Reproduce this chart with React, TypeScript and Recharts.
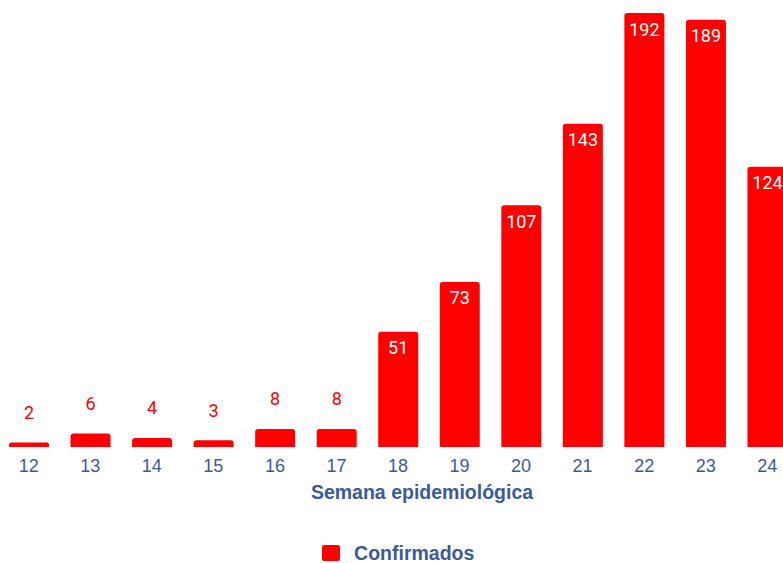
import React from "react";
import { BarChart, Bar, XAxis, YAxis, LabelList, Legend } from "recharts";

const weeks = ["12", "13", "14", "15", "16", "17", "18", "19", "20", "21", "22", "23", "24"];
const confirmados = [2, 6, 4, 3, 8, 8, 51, 73, 107, 143, 192, 189, 124];

const data = weeks.map((w, i) => ({ week: w, confirmados: confirmados[i] }));

const AXIS_COLOR = "#3c5a99";
const BAR_COLOR = "#ff0000";

const BarLabel = (props: any) => {
  const { x, y, width, value } = props;
  const inside = value > 20;
  return (
    <text
      x={x + width / 2}
      y={inside ? y + 16 : y - 30}
      textAnchor="middle"
      dominantBaseline="central"
      fill={inside ? "#ffffff" : BAR_COLOR}
      style={{ fontFamily: "Roboto, sans-serif", fontSize: 18 }}
    >
      {value}
    </text>
  );
};

const LegendContent = () => (
  <div style={{ display: "flex", justifyContent: "center", alignItems: "center", fontFamily: "'Liberation Sans', Arial, sans-serif", lineHeight: "20px" }}>
    <span style={{ display: "inline-block", width: 18, height: 16, background: BAR_COLOR, borderRadius: 2, marginRight: 14 }} />
    <span style={{ color: AXIS_COLOR, fontWeight: 700, fontSize: 19.5 }}>Confirmados</span>
  </div>
);

export default function App() {
  return (
    <div style={{ position: "fixed", left: 0, top: 0, width: 783, height: 563, overflow: "hidden", background: "#fff" }}>
      <div style={{ position: "absolute", left: -1.75, top: 0 }}>
        <BarChart
          width={800}
          height={563}
          data={data}
          margin={{ top: 13, right: 0, left: 0, bottom: 36 }}
          barSize={40}
        >
          <XAxis
            dataKey="week"
            axisLine={false}
            tickLine={false}
            tickSize={6}
            tickMargin={6}
            height={60}
            interval={0}
            tick={{ fill: AXIS_COLOR, fontSize: 18, fontFamily: "'Liberation Sans', Arial, sans-serif" }}
            label={{
              value: "Semana epidemiológica",
              position: "insideBottom",
              offset: 8,
              dx: 24,
              fill: AXIS_COLOR,
              fontSize: 19.5,
              fontWeight: 700,
              fontFamily: "'Liberation Sans', Arial, sans-serif",
            }}
          />
          <YAxis hide domain={[0, 192]} />
          <Legend verticalAlign="bottom" content={<LegendContent />} wrapperStyle={{ bottom: "auto", top: 543, height: 20 }} />
          <Bar dataKey="confirmados" fill={BAR_COLOR} radius={[3, 3, 0, 0]} isAnimationActive={false}>
            <LabelList dataKey="confirmados" content={<BarLabel />} />
          </Bar>
        </BarChart>
      </div>
    </div>
  );
}
